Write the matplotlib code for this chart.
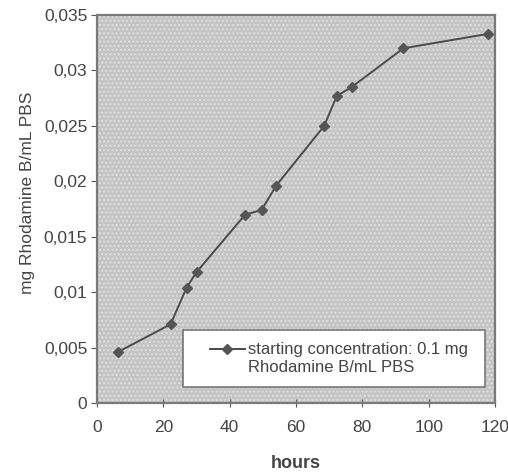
import matplotlib
matplotlib.use("Agg")
import matplotlib.pyplot as plt
import numpy as np
from matplotlib.ticker import FuncFormatter
from matplotlib.legend_handler import HandlerLine2D

hours = [6.3, 22.2, 27.0, 30.0, 44.7, 49.6, 54.0, 68.5, 72.3, 76.8, 92.4, 118.0]
conc = [0.0046, 0.0071, 0.0104, 0.0118, 0.0170, 0.0174, 0.0196, 0.0250, 0.0277, 0.0285, 0.0320, 0.0333]
xticks = [0, 20, 40, 60, 80, 100, 120]
yticks = [0, 0.005, 0.01, 0.015, 0.02, 0.025, 0.03, 0.035]
series_label = "starting concentration: 0.1 mg\nRhodamine B/mL PBS"

plt.rcParams['font.family'] = ['Liberation Sans', 'DejaVu Sans']


class RaisedLineHandler(HandlerLine2D):
    def __init__(self, dy=0.0, **kw):
        super().__init__(**kw)
        self._dy = dy

    def create_artists(self, legend, orig_handle, xdescent, ydescent,
                       width, height, fontsize, trans):
        arts = super().create_artists(legend, orig_handle, xdescent, ydescent,
                                      width, height, fontsize, trans)
        for a in arts:
            a.set_ydata(np.asarray(a.get_ydata()) + self._dy)
        return arts


fig = plt.figure(figsize=(5.08, 4.72), dpi=100)
ax = fig.add_axes([97/508, 1 - 403/472, 398/508, 388/472])
ax.set_facecolor('#c4c4c4')
ax.patch.set_hatch('....')
ax.patch.set_edgecolor('#e0e0e0')
ax.patch.set_linewidth(0)

line, = ax.plot(hours, conc, color='#4a4a4a', lw=1.4, marker='D', ms=5.5,
                mfc='#555555', mec='#555555', label=series_label)

ax.set_xlim(0, 120)
ax.set_ylim(0, 0.035)
ax.set_xticks(xticks)
ax.set_yticks(yticks)
ax.yaxis.set_major_formatter(FuncFormatter(lambda v, p: ('%g' % v).replace('.', ',')))
ax.tick_params(axis='x', direction='inout', length=6, colors='#555555', labelsize=12.5, pad=9, labelcolor='#444444')
ax.tick_params(axis='y', direction='out', length=4, colors='#555555', labelsize=12.5, pad=3, labelcolor='#444444')
for s in ax.spines.values():
    s.set_color('#7a7a7a')
    s.set_linewidth(1.6)

ax.set_xlabel('hours', fontsize=13, fontweight='bold', color='#444444')
ax.xaxis.set_label_coords(0.5, -(464 - 403) / 388)
ax.xaxis.label.set_va('center')
ax.set_ylabel('mg Rhodamine B/mL PBS', fontsize=12.5, color='#444444')
ax.yaxis.set_label_coords(-(97 - 28) / 398, (403 - 193) / 388)
ax.yaxis.label.set_va('center')

fs = 12
leg = ax.legend(loc='lower left', bbox_to_anchor=(0.216, 0.041, 0.759, 0.152), mode='expand',
                fontsize=fs, frameon=True, fancybox=False, handlelength=2.95,
                handletextpad=0.2, borderpad=0.75, borderaxespad=0, labelspacing=0.2,
                labelcolor='#444444',
                handler_map={line: RaisedLineHandler(dy=7.0, xpad=0.85)})
leg.get_frame().set_facecolor('white')
leg.get_frame().set_edgecolor('#777777')
leg.get_frame().set_linewidth(1.2)
leg.get_frame().set_alpha(1)

fig.savefig('out.png', dpi=100)
